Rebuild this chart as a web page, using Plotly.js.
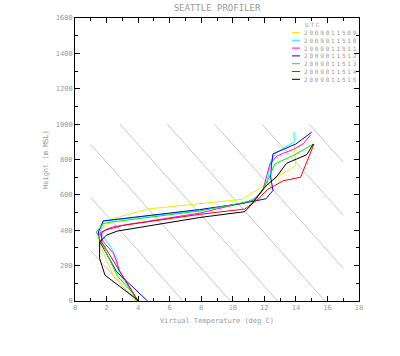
<!DOCTYPE html>
<html><head><meta charset="utf-8">
<script src="https://cdn.plot.ly/plotly-3.0.1.min.js"></script>
<style>html,body{margin:0;padding:0;background:#fff}
.annotation-text{letter-spacing:1.8px}</style>
</head><body><div id="chart" style="width:400px;height:356px"></div>
<script>
// ---- data ----
const timesUTC = ['2009011509','2009011510','2009011511','2009011512','2009011513','2009011514','2009011515'];

const t09 = [3.95, 2.4, 2.0, 1.55, 1.45, 2.4, 4.6, 10.6, 12.0, 14.0, 13.9];
const h09 = [0, 150, 230, 330, 390, 465, 520, 575, 654, 766, 885];

const t10 = [4.0, 2.8, 2.64, 2.3, 1.6, 1.8, 2.4, 7.9, 10.8, 11.5, 12.0, 12.25, 12.4, 12.7, 13.9, 13.88];
const h10 = [0, 156, 240, 300, 385, 455, 457, 513, 555, 588, 644, 700, 790, 835, 900, 958];

const t11 = [4.0, 2.85, 2.45, 1.75, 1.58, 2.1, 2.45, 7.9, 11.3, 11.9, 12.1, 12.35, 12.8, 13.9, 14.45, 14.95];
const h11 = [0, 165, 268, 340, 385, 410, 420, 497, 569, 625, 690, 775, 820, 860, 888, 940];

const t12 = [4.6, 2.64, 1.58, 1.48, 1.79, 2.45, 7.9, 10.5, 12.1, 12.55, 12.4, 12.45, 12.55, 14.0, 15.0];
const h12 = [0, 165, 334, 390, 452, 460, 517, 550, 578, 625, 700, 766, 832, 888, 954];

const t13 = [3.9, 3.6, 2.7, 1.7, 1.35, 1.8, 2.35, 7.9, 11.0, 11.5, 12.13, 12.66, 13.82, 15.13];
const h13 = [0, 52, 140, 325, 390, 438, 447, 509, 562, 578, 663, 775, 822, 888];

const t14 = [4.0, 1.69, 1.69, 1.9, 3.06, 7.9, 10.76, 11.6, 12.2, 13.2, 14.3, 15.15];
const h14 = [0, 334, 385, 400, 428, 490, 520, 575, 630, 680, 700, 888];

const t15 = [4.05, 1.9, 1.56, 1.56, 2.0, 2.66, 7.9, 10.76, 11.08, 12.1, 12.8, 13.2, 13.4, 14.7, 15.1];
const h15 = [0, 146, 240, 334, 372, 395, 472, 505, 535, 650, 705, 750, 778, 828, 888];

const temps = [t09, t10, t11, t12, t13, t14, t15];
const hgts  = [h09, h10, h11, h12, h13, h14, h15];

// dry adiabats (potential temperature, K)
const thetaK = [277, 280, 283, 286, 289, 292, 295, 298];

// ticks
const xTickVals = [0, 2, 4, 6, 8, 10, 12, 14, 16, 18];
const yTickVals = [0, 200, 400, 600, 800, 1000, 1200, 1400, 1600];

// ---- styles ----
const lineColors = ['#eeee00', '#00ffff', '#ff00ff', '#0000ff', '#00ee00', '#ff0000', '#000000'];
const txtGrey = '#9a9a9a';
const mono = 'DejaVu Sans Mono, monospace';

const traces = [];
const lapse = 0.01, tLo = 1, tHi = 17, hTop = 1000;
thetaK.forEach(th => {
  const t0 = th - 273.15;
  const hA = Math.max(0, (t0 - tHi) / lapse);
  const hB = Math.min(hTop, (t0 - tLo) / lapse);
  if (hB <= hA) return;
  traces.push({
    x: [t0 - lapse * hA, t0 - lapse * hB], y: [hA, hB],
    mode: 'lines', line: {color: '#c8c8c8', width: 1},
    hoverinfo: 'skip', showlegend: false
  });
});
temps.forEach((t, i) => {
  traces.push({
    x: t, y: hgts[i], name: timesUTC[i], mode: 'lines',
    line: {color: lineColors[i], width: 1}, showlegend: false
  });
});

// plot area in px
const L = 75, R = 359, T = 18, B = 301;
const W = 400, H = 356;
const px2x = p => (p - L) / (R - L);
const py2y = p => (B - p) / (B - T);

const legFont = 6, rowGap = 7.8, row0 = 32.5;
const annotations = [{
  text: 'UTC', xref: 'paper', yref: 'paper', x: px2x(313), y: py2y(25),
  xanchor: 'center', yanchor: 'middle', showarrow: false,
  font: {family: mono, size: legFont, color: txtGrey}
}, {
  text: timesUTC.join('<br>'), xref: 'paper', yref: 'paper', align: 'left',
  x: px2x(302), y: py2y(row0 + rowGap * (timesUTC.length - 1) / 2),
  xanchor: 'left', yanchor: 'middle', showarrow: false,
  font: {family: mono, size: legFont, color: txtGrey}
}];
const shapes = timesUTC.map((s, i) => {
  const yp = row0 + rowGap * i;
  return {type: 'line', xref: 'paper', yref: 'paper',
    x0: px2x(292), x1: px2x(300), y0: py2y(yp), y1: py2y(yp),
    line: {color: lineColors[i], width: 1}};
});

const axisCommon = {
  showline: true, linecolor: '#000', linewidth: 1, mirror: 'ticks',
  ticks: 'inside', ticklen: 5, tickwidth: 1, tickcolor: '#000',
  showgrid: false, zeroline: false,
  tickfont: {family: mono, size: 7, color: txtGrey}
};

const layout = {
  width: W, height: H,
  margin: {l: L, r: W - R, t: T, b: H - B, pad: 0},
  paper_bgcolor: '#fff', plot_bgcolor: '#fff',
  showlegend: false,
  title: {text: 'SEATTLE PROFILER', x: (L + R) / 2 / W, xanchor: 'center',
    y: 1 - 8 / H, yanchor: 'middle', font: {family: mono, size: 9, color: txtGrey}},
  xaxis: Object.assign({}, axisCommon, {
    range: [0, 18], tickvals: xTickVals, ticktext: xTickVals.map(String),
    minor: {dtick: 1, ticklen: 3, tickcolor: '#000', ticks: 'inside'},
    title: {text: 'Virtual Temperature (deg C)', standoff: 6,
      font: {family: mono, size: 7, color: txtGrey}}
  }),
  yaxis: Object.assign({}, axisCommon, {
    range: [0, 1600], tickvals: yTickVals, ticktext: yTickVals.map(String),
    minor: {dtick: 100, ticklen: 3, tickcolor: '#000', ticks: 'inside'},
    title: {text: 'Height (m MSL)', standoff: 6,
      font: {family: mono, size: 7, color: txtGrey}}
  }),
  annotations: annotations, shapes: shapes
};

Plotly.newPlot('chart', traces, layout, {staticPlot: true, displayModeBar: false});
</script></body></html>
